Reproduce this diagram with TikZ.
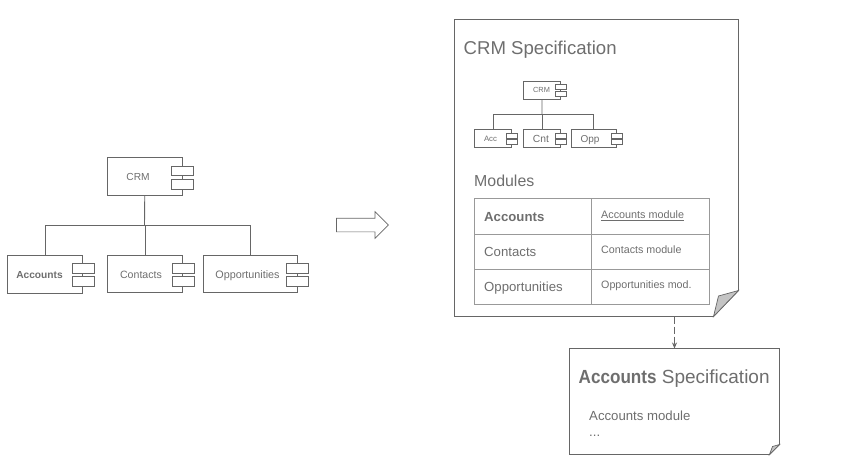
\documentclass[tikz,border=0pt]{standalone}
\usepackage{fontspec}
\setmainfont{Liberation Sans}
\usetikzlibrary{arrows.meta,shapes.arrows}
\definecolor{inkgray}{HTML}{666666}
\definecolor{textgray}{HTML}{6E6E6E}
\definecolor{cellgray}{HTML}{999999}
\definecolor{foldgray}{HTML}{C4C4C4}
\tikzset{
  txt/.style={text=textgray,inner sep=0pt,font=\fontsize{#1}{#1}\selectfont},
  comp/.style={draw=inkgray,line width=0.9pt,anchor=north west,inner sep=0pt,outer sep=0pt},
  port/.style={draw=inkgray,line width=0.9pt,fill=white,anchor=north west,inner sep=0pt,outer sep=0pt,minimum width=21.5pt,minimum height=9.5pt},
  miniport/.style={port,line width=0.6pt,minimum width=11pt,minimum height=5pt},
  link/.style={draw=inkgray,line width=0.9pt},
  pagebox/.style={anchor=north west,inner sep=0pt,outer sep=0pt},
  cell/.style={draw=cellgray,line width=0.8pt},
}
\begin{document}
\begin{tikzpicture}[x=1pt,y=-1pt]
  \useasboundingbox (0,0) rectangle (841,472);

  % Component tree
  \node[comp,minimum width=74.5pt,minimum height=38pt] (crm) at (107.5,157.5) {};
  \node[comp,minimum width=75pt,minimum height=38pt] (acc) at (7.5,255.5) {};
  \node[comp,minimum width=75pt,minimum height=37.5pt] (cnt) at (107.5,255) {};
  \node[comp,minimum width=94pt,minimum height=37pt] (opp) at (203.5,255.5) {};
  \node[port] (crmportA) at (171.5,166) {};
  \node[port] (crmportB) at (171.5,179.5) {};
  \node[port] (accportA) at (72.5,263.5) {};
  \node[port] (accportB) at (72.5,276.5) {};
  \node[port] (cntportA) at (172.5,263.5) {};
  \node[port] (cntportB) at (172.5,276.5) {};
  \node[port] (oppportA) at (286.5,263.5) {};
  \node[port] (oppportB) at (286.5,276.5) {};
  \node[txt=10.2,anchor=base] (crmname) at (138,180.5) {CRM};
  \node[txt=10.2,anchor=base] (accname) at (39.5,278) {\textbf{Accounts}};
  \node[txt=10.6,anchor=base] (cntname) at (141,278) {Contacts};
  \node[txt=10.8,anchor=base] (oppname) at (247.5,278) {Opportunities};
  \coordinate (bus) at (144.5,225.5);
  \draw[link] (crm.south) -- (bus);
  \draw[link] (bus) -| (acc.north);
  \draw[link] (bus) -- (bus -| cnt.north) -- (cnt.north);
  \draw[link] (bus) -| (opp.north);

  % Block arrow
  \node[single arrow,draw=inkgray,line width=0.7pt,inner xsep=0pt,inner ysep=6.5pt,outer sep=0pt,
    minimum width=26pt,minimum height=52pt,single arrow head extend=6.5pt] (turn) at (359,225) {};

  % CRM specification page
  \node[pagebox,minimum width=284pt,minimum height=297pt] (crmspec) at (454.5,19.5) {};
  \coordinate (crmfoldA) at (738.5,290.5);
  \coordinate (crmfoldB) at (713.5,316.5);
  \coordinate (crmfoldC) at (718.5,296);
  \draw[link] (crmspec.north west) -- (crmspec.north east) -- (crmfoldA) -- (crmfoldB)
    -- (crmspec.south west) -- cycle;
  \draw[link,line width=0.7pt,fill=foldgray] (crmfoldA) -- (crmfoldC) -- (crmfoldB) -- cycle;
  \node[txt=18.6,anchor=base west] (crmtitle) at (463.5,54.5) {CRM Specification};

  % Small component tree
  \node[comp,line width=0.7pt,minimum width=37.5pt,minimum height=18.5pt] (minicrm) at (523.2,81) {};
  \node[comp,line width=0.7pt,minimum width=37.5pt,minimum height=18.5pt] (miniacc) at (474.3,129) {};
  \node[comp,line width=0.7pt,minimum width=37.5pt,minimum height=18.5pt] (minicnt) at (523.2,129) {};
  \node[comp,line width=0.7pt,minimum width=44.5pt,minimum height=18.5pt] (miniopp) at (571.5,129) {};
  \node[miniport] (minicrmportA) at (555,84.5) {};
  \node[miniport] (minicrmportB) at (555,91.5) {};
  \node[miniport] (miniaccportA) at (506.7,133.5) {};
  \node[miniport] (miniaccportB) at (506.7,139.5) {};
  \node[miniport] (minicntportA) at (555,133.5) {};
  \node[miniport] (minicntportB) at (555,139.5) {};
  \node[miniport] (minioppportA) at (611.7,133.5) {};
  \node[miniport] (minioppportB) at (611.7,139.5) {};
  \node[txt=7.4,anchor=base] (minicrmname) at (541.5,92.7) {CRM};
  \node[txt=7.8,anchor=base] (miniaccname) at (490.5,141.7) {Acc};
  \node[txt=10.3,anchor=base] (minicntname) at (541,142.5) {Cnt};
  \node[txt=10,anchor=base] (minioppname) at (590,142.5) {Opp};
  \coordinate (minibus) at (542,114.5);
  \draw[link,line width=0.7pt] (minicrm.south) -- (minibus);
  \draw[link,line width=0.7pt] (minibus) -| (miniacc.north);
  \draw[link,line width=0.7pt] (minibus) -- (minibus -| minicnt.north) -- (minicnt.north);
  \draw[link,line width=0.7pt] (minibus) -| (miniopp.north);

  % Module table
  \node[txt=15.9,anchor=base west] (modtitle) at (474,186.7) {Modules};
  \draw[cell] (474.5,198.5) rectangle (709,304.5);
  \draw[cell] (474.5,234.5) -- (709,234.5);
  \draw[cell] (474.5,269.5) -- (709,269.5);
  \draw[cell] (591.5,198.5) -- (591.5,304.5);
  \node[txt=13.2,anchor=base west] (rowacc) at (484,221) {\textbf{Accounts}};
  \node[txt=13.2,anchor=base west] (rowcnt) at (484,256) {Contacts};
  \node[txt=13.2,anchor=base west] (rowopp) at (484,291) {Opportunities};
  \node[txt=10.8,anchor=base west] (modacc) at (601,218.7) {\underline{Accounts module}};
  \node[txt=10.7,anchor=base west] (modcnt) at (601,253.3) {Contacts module};
  \node[txt=10.7,anchor=base west] (modopp) at (601,288.3) {Opportunities mod.};

  % Accounts specification page
  \node[pagebox,minimum width=210pt,minimum height=106pt] (accspec) at (569.5,348.5) {};
  \coordinate (accfoldA) at (779.5,444.5);
  \coordinate (accfoldB) at (769.5,454.5);
  \coordinate (accfoldC) at (772.5,446.5);
  \draw[link] (accspec.north west) -- (accspec.north east) -- (accfoldA) -- (accfoldB)
    -- (accspec.south west) -- cycle;
  \draw[link,line width=0.7pt,fill=foldgray] (accfoldA) -- (accfoldC) -- (accfoldB) -- cycle;
  \node[txt=19,anchor=base west] (acctitle) at (578.5,383.3) {{\bfseries\addfontfeature{FakeStretch=0.9}Accounts} Specification};
  \node[txt=13.2,anchor=base west] (accmodule) at (589,420.7) {Accounts module};
  \node[txt=13.2,anchor=base west] (accdots) at (589,436.7) {...};

  % Dashed link between pages
  \draw[link,line width=0.8pt,dash pattern=on 7pt off 3pt,-{Stealth[length=6pt,width=5pt]}]
    (crmspec.south -| accspec.north) -- (accspec.north);
\end{tikzpicture}
\end{document}
